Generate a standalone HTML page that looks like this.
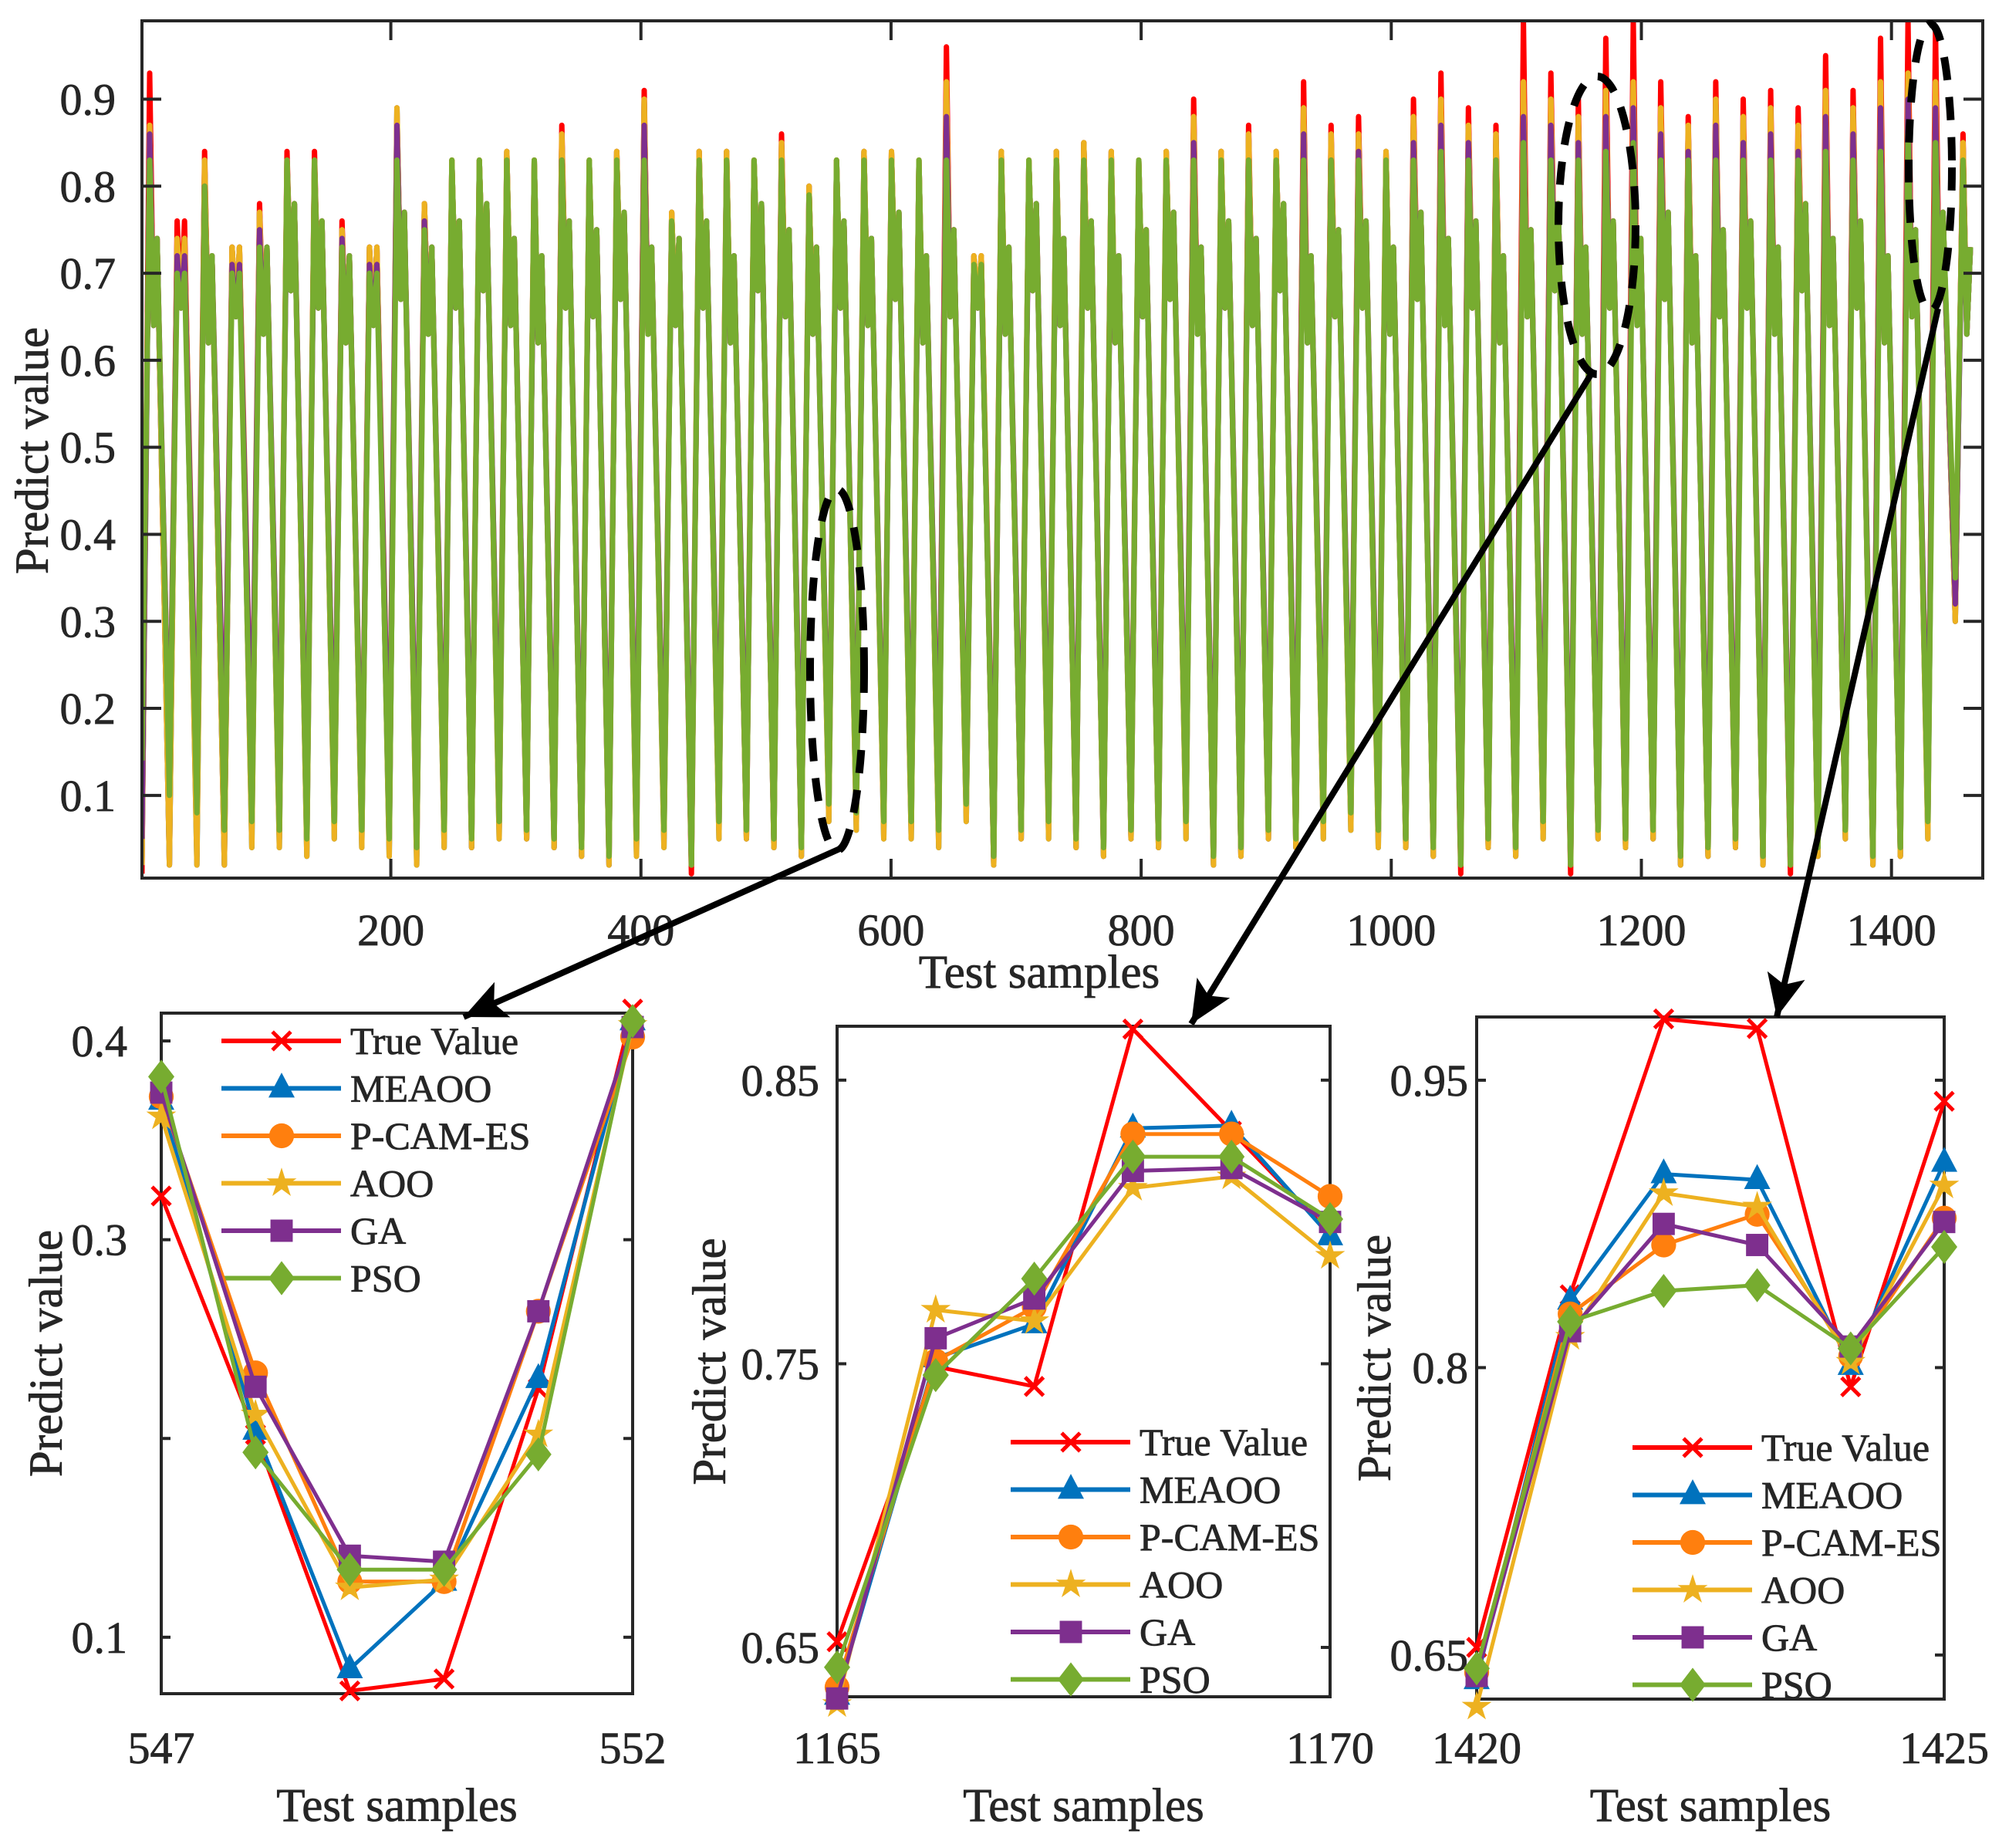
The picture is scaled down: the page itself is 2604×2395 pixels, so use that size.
<!DOCTYPE html>
<html><head><meta charset="utf-8">
<style>
html,body{margin:0;padding:0;background:#fff;}
svg text{font-family:"Liberation Serif",serif;fill:#262626;stroke:#262626;stroke-width:0.8px;}
</style></head>
<body>
<svg id="fig" width="2604" height="2390" viewBox="0 0 2604 2390" xmlns="http://www.w3.org/2000/svg">
<rect width="2604" height="2390" fill="#fff"/>
<g id="main"></g>
<g id="s1"></g>
<g id="s2"></g>
<g id="s3"></g>
<g id="ann"></g>
</svg>
<script>
// ---------- main chart data (per oscillation cycle) ----------
const mainXTicks=[200,400,600,800,1000,1200,1400];
const mainYTicks=[0.1,0.2,0.3,0.4,0.5,0.6,0.7,0.8,0.9];
const peaksTrue=[0.93,0.76,0.84,0.73,0.78,0.84,0.84,0.76,0.73,0.88,0.78,0.83,0.83,0.84,0.83,0.87,0.83,0.84,0.91,0.77,0.84,0.84,0.83,0.86,0.80,0.83,0.84,0.84,0.83,0.96,0.72,0.84,0.83,0.84,0.85,0.84,0.83,0.84,0.90,0.84,0.87,0.84,0.92,0.87,0.88,0.84,0.90,0.93,0.89,0.87,0.99,0.93,0.90,0.97,0.99,0.92,0.88,0.92,0.90,0.91,0.89,0.95,0.91,0.97,0.99,0.98,0.86];
const troughsTrue=[0.01,0.02,0.03,0.02,0.06,0.05,0.04,0.06,0.05,0.04,0.03,0.05,0.04,0.06,0.05,0.04,0.03,0.02,0.04,0.05,0.01,0.06,0.05,0.04,0.03,0.08,0.07,0.06,0.06,0.05,0.08,0.02,0.05,0.06,0.04,0.03,0.05,0.04,0.06,0.02,0.03,0.05,0.04,0.06,0.07,0.05,0.04,0.03,0.01,0.04,0.03,0.06,0.01,0.05,0.04,0.05,0.02,0.03,0.04,0.02,0.01,0.03,0.05,0.02,0.03,0.06,0.3];
const peaksMeaoo=[0.87,0.74,0.83,0.73,0.77,0.83,0.83,0.75,0.73,0.89,0.78,0.83,0.83,0.84,0.83,0.86,0.83,0.84,0.90,0.77,0.84,0.84,0.83,0.85,0.80,0.83,0.84,0.84,0.83,0.92,0.72,0.84,0.83,0.84,0.85,0.84,0.83,0.84,0.88,0.84,0.86,0.84,0.89,0.86,0.86,0.84,0.88,0.90,0.87,0.86,0.92,0.90,0.88,0.91,0.92,0.89,0.87,0.90,0.88,0.89,0.87,0.91,0.89,0.92,0.93,0.92,0.85];
const peaksGa=[0.86,0.72,0.80,0.71,0.75,0.80,0.80,0.74,0.71,0.87,0.76,0.80,0.80,0.81,0.80,0.83,0.80,0.81,0.87,0.75,0.81,0.81,0.80,0.82,0.78,0.80,0.81,0.81,0.80,0.88,0.70,0.81,0.80,0.81,0.82,0.81,0.80,0.81,0.85,0.81,0.83,0.81,0.86,0.83,0.84,0.81,0.85,0.87,0.85,0.83,0.88,0.87,0.85,0.88,0.89,0.86,0.84,0.87,0.85,0.86,0.84,0.88,0.86,0.89,0.90,0.89,0.82];
const peaksPso=[0.83,0.70,0.80,0.70,0.73,0.83,0.83,0.73,0.70,0.83,0.75,0.83,0.83,0.83,0.83,0.83,0.83,0.83,0.83,0.76,0.83,0.83,0.83,0.83,0.79,0.83,0.83,0.83,0.83,0.83,0.71,0.83,0.83,0.83,0.83,0.83,0.83,0.83,0.83,0.83,0.83,0.83,0.83,0.83,0.83,0.83,0.83,0.84,0.83,0.83,0.85,0.83,0.83,0.84,0.85,0.83,0.83,0.83,0.83,0.83,0.83,0.84,0.83,0.84,0.86,0.85,0.83];
const troughsAoo=[0.02,0.02,0.02,0.02,0.04,0.04,0.03,0.05,0.04,0.03,0.02,0.04,0.04,0.05,0.05,0.04,0.03,0.02,0.03,0.04,0.02,0.05,0.05,0.04,0.03,0.07,0.06,0.05,0.05,0.04,0.07,0.02,0.05,0.05,0.04,0.03,0.05,0.04,0.05,0.02,0.03,0.05,0.04,0.05,0.06,0.04,0.04,0.03,0.02,0.04,0.03,0.05,0.02,0.05,0.04,0.05,0.02,0.03,0.04,0.02,0.02,0.03,0.05,0.02,0.03,0.05,0.3];
const troughsGa=[0.05,0.12,0.12,0.12,0.13,0.10,0.09,0.10,0.08,0.09,0.08,0.09,0.08,0.10,0.09,0.08,0.07,0.06,0.08,0.09,0.05,0.10,0.09,0.08,0.07,0.11,0.10,0.09,0.10,0.09,0.11,0.06,0.09,0.10,0.08,0.07,0.09,0.08,0.10,0.06,0.07,0.09,0.08,0.10,0.11,0.09,0.08,0.07,0.05,0.08,0.07,0.10,0.05,0.09,0.08,0.09,0.06,0.07,0.08,0.06,0.05,0.07,0.09,0.06,0.07,0.10,0.32];
const troughsPso=[0.14,0.10,0.08,0.06,0.07,0.06,0.05,0.07,0.06,0.05,0.04,0.06,0.05,0.07,0.06,0.05,0.04,0.03,0.05,0.06,0.02,0.07,0.06,0.05,0.04,0.09,0.08,0.07,0.07,0.06,0.09,0.03,0.06,0.07,0.05,0.04,0.06,0.05,0.07,0.03,0.04,0.06,0.05,0.07,0.08,0.06,0.05,0.04,0.02,0.05,0.04,0.07,0.02,0.06,0.05,0.06,0.03,0.04,0.05,0.03,0.02,0.04,0.06,0.03,0.04,0.07,0.35];
const midDips=[0.64,0.66,0.62,0.65,0.63,0.68,0.66,0.62,0.64,0.67,0.63,0.66,0.68,0.64,0.62,0.66,0.65,0.67,0.63,0.64,0.66,0.62,0.68,0.65,0.63,0.66,0.64,0.67,0.62,0.65,0.66,0.63,0.68,0.64,0.66,0.62,0.65,0.67,0.63,0.66,0.64,0.68,0.62,0.65,0.66,0.63,0.67,0.64,0.66,0.62,0.65,0.68,0.63,0.66,0.64,0.67,0.62,0.65,0.66,0.63,0.68,0.64,0.66,0.62,0.65,0.67,0.63];

// ---------- zoom chart data ----------
const names=["True Value","MEAOO","P-CAM-ES","AOO","GA","PSO"];
const colors=["#ff0000","#0072bd","#ff7f0e","#edb120","#7e2f8e","#77ac30"];
const z1x=[547,548,549,550,551,552];
const z1True=[0.322,0.202,0.073,0.079,0.225,0.416];
const z1Meaoo=[0.370,0.204,0.084,0.128,0.230,0.410];
const z1Pcam=[0.372,0.233,0.128,0.128,0.264,0.402];
const z1Aoo=[0.362,0.212,0.125,0.129,0.202,0.408];
const z1Ga=[0.374,0.226,0.141,0.138,0.264,0.407];
const z1Pso=[0.382,0.193,0.134,0.134,0.192,0.410];
const z2x=[1165,1166,1167,1168,1169,1170];
const z2True=[0.652,0.749,0.742,0.868,0.832,0.796];
const z2Meaoo=[0.633,0.752,0.764,0.833,0.834,0.795];
const z2Pcam=[0.636,0.751,0.770,0.831,0.831,0.809];
const z2Aoo=[0.630,0.769,0.765,0.812,0.816,0.788];
const z2Ga=[0.632,0.759,0.773,0.818,0.819,0.800];
const z2Pso=[0.643,0.746,0.780,0.823,0.823,0.801];
const z3x=[1420,1421,1422,1423,1424,1425];
const z3True=[0.654,0.838,0.982,0.977,0.790,0.939];
const z3Meaoo=[0.637,0.835,0.901,0.898,0.801,0.907];
const z3Pcam=[0.641,0.828,0.864,0.880,0.806,0.878];
const z3Aoo=[0.623,0.816,0.891,0.884,0.803,0.895];
const z3Ga=[0.639,0.819,0.875,0.864,0.811,0.876];
const z3Pso=[0.643,0.824,0.840,0.843,0.810,0.863];

const NS="http://www.w3.org/2000/svg";
function mk(tag,parent,attrs){const e=document.createElementNS(NS,tag);for(const k in attrs)e.setAttribute(k,attrs[k]);parent.appendChild(e);return e;}

// ---------- main chart ----------
(function(){
 const g=document.getElementById('main');
 const L=184,R=2570,T=27,B=1138,XMIN=1,XMAX=1473,YMIN=0.005,YMAX=0.99;
 const sx=v=>L+(v-XMIN)/(XMAX-XMIN)*(R-L);
 const sy=v=>B-(v-YMIN)/(YMAX-YMIN)*(B-T);
 const clip=mk('clipPath',g,{id:'mclip'});mk('rect',clip,{x:L,y:T,width:R-L,height:B-T});
 const n=peaksTrue.length, P=(XMAX-XMIN)/n;
 function series(pk,tr){
   const pts=[];
   for(let i=0;i<n;i++){
     const x0=XMIN+i*P;
     pts.push([x0,tr[i]]);
     pts.push([x0+P*0.28,pk[i]]);
     pts.push([x0+P*0.42,midDips[i]]);
     pts.push([x0+P*0.55,Math.min(pk[i],midDips[i]+0.1)]);
   }
   return pts.map(p=>sx(p[0]).toFixed(1)+','+sy(p[1]).toFixed(1)).join(' ');
 }
 const defs=[[peaksTrue,troughsTrue,0,'series-true-value'],[peaksMeaoo,troughsAoo,1,'series-meaoo'],[peaksMeaoo,troughsGa,2,'series-p-cam-es'],[peaksMeaoo,troughsAoo,3,'series-aoo'],[peaksGa,troughsGa,4,'series-ga'],[peaksPso,troughsPso,5,'series-pso']];
 const lg=mk('g',g,{'clip-path':'url(#mclip)'});
 defs.forEach(d=>{
   const pl=mk('polyline',lg,{points:series(d[0],d[1]),fill:'none',stroke:colors[d[2]],'stroke-width':7,'stroke-linejoin':'round'});
   
   
 });
 const box=mk('rect',g,{x:L,y:T,width:R-L,height:B-T,fill:'none',stroke:'#262626','stroke-width':4});
 
 
 mainXTicks.forEach(v=>{
   const x=sx(v);
   mk('line',g,{x1:x,x2:x,y1:B,y2:B-25,stroke:'#262626','stroke-width':4});
   mk('line',g,{x1:x,x2:x,y1:T,y2:T+25,stroke:'#262626','stroke-width':4});
   const t=mk('text',g,{x:x,y:1225,'font-size':58,'text-anchor':'middle'});t.textContent=v;
   
   
 });
 mainYTicks.forEach(v=>{
   const y=sy(v);
   mk('line',g,{x1:L,x2:L+25,y1:y,y2:y,stroke:'#262626','stroke-width':4});
   mk('line',g,{x1:R,x2:R-25,y1:y,y2:y,stroke:'#262626','stroke-width':4});
   const t=mk('text',g,{x:150,y:y+20,'font-size':58,'text-anchor':'end'});t.textContent=v.toFixed(1);
   
   
 });
 const xt=mk('text',g,{x:1347,y:1280,'font-size':61,'text-anchor':'middle'});xt.textContent='Test samples';
 
 
 const yt=mk('text',g,{x:0,y:0,'font-size':61,'text-anchor':'middle',transform:'translate(62,584) rotate(-90)'});yt.textContent='Predict value';
 
 
})();

// ---------- zoom charts ----------
function marker(g,type,x,y,c){
 const s=17;
 if(type===0){mk('path',g,{d:`M${x-s*0.7},${y-s*0.7}L${x+s*0.7},${y+s*0.7}M${x-s*0.7},${y+s*0.7}L${x+s*0.7},${y-s*0.7}`,stroke:c,'stroke-width':5,fill:'none'});}
 else if(type===1){mk('polygon',g,{points:`${x},${y-s*1.2} ${x-s},${y+s*0.7} ${x+s},${y+s*0.7}`,fill:c});}
 else if(type===2){mk('circle',g,{cx:x,cy:y,r:s*0.95,fill:c});}
 else if(type===3){const p=[];for(let k=0;k<10;k++){const r=k%2?s*0.45:s*1.2;const a=-Math.PI/2+k*Math.PI/5;p.push((x+r*Math.cos(a)).toFixed(1)+','+(y+r*Math.sin(a)).toFixed(1));}mk('polygon',g,{points:p.join(' '),fill:c});}
 else if(type===4){mk('rect',g,{x:x-s*0.85,y:y-s*0.85,width:s*1.7,height:s*1.7,fill:c});}
 else {mk('polygon',g,{points:`${x},${y-s*1.3} ${x+s},${y} ${x},${y+s*1.3} ${x-s},${y}`,fill:c});}
}
function zoomChart(id,cfg,xs,seriesArr){
 const g=document.getElementById(id);
 const {L,R,T,B,YMIN,YMAX,yTicks,yLabels,labX,legX,legY,ytX}=cfg;
 const XMIN=xs[0],XMAX=xs[xs.length-1];
 const sx=v=>L+(v-XMIN)/(XMAX-XMIN)*(R-L);
 const sy=v=>B-(v-YMIN)/(YMAX-YMIN)*(B-T);
 const fr=mk('rect',g,{x:L,y:T,width:R-L,height:B-T,fill:'none',stroke:'#262626','stroke-width':4});
 
 
 yTicks.forEach((v,i)=>{
   const y=sy(v);
   mk('line',g,{x1:L,x2:L+12,y1:y,y2:y,stroke:'#262626','stroke-width':4});
   mk('line',g,{x1:R,x2:R-12,y1:y,y2:y,stroke:'#262626','stroke-width':4});
   if(yLabels[i]){const t=mk('text',g,{x:labX,y:y+20,'font-size':58,'text-anchor':'end'});t.textContent=yLabels[i];
   
   }
 });
 [XMIN,XMAX].forEach(v=>{
   const t=mk('text',g,{x:sx(v),y:2285,'font-size':58,'text-anchor':'middle'});t.textContent=v;
   
   
 });
 const xt=mk('text',g,{x:(L+R)/2,y:2360,'font-size':61,'text-anchor':'middle'});xt.textContent='Test samples';
 
 
 const yt=mk('text',g,{x:0,y:0,'font-size':61,'text-anchor':'middle',transform:`translate(${ytX},${(T+B)/2}) rotate(-90)`});yt.textContent='Predict value';
 
 
 names.forEach((nm,i)=>{
   const y=legY+i*61.5;
   const lgE=mk('g',g,{});
   
   
   mk('line',lgE,{x1:legX,x2:legX+155,y1:y,y2:y,stroke:colors[i],'stroke-width':6});
   marker(lgE,i,legX+78,y,colors[i]);
   const t=mk('text',lgE,{x:legX+167,y:y+17,'font-size':50});t.textContent=nm;
 });
 seriesArr.forEach((vals,i)=>{
   const sg=mk('g',g,{});
   
   
   mk('polyline',sg,{points:vals.map((v,k)=>sx(xs[k]).toFixed(1)+','+sy(v).toFixed(1)).join(' '),fill:'none',stroke:colors[i],'stroke-width':5,'stroke-linejoin':'round'});
   vals.forEach((v,k)=>marker(sg,i,sx(xs[k]),sy(v),colors[i]));
 });
}
zoomChart('s1',{L:209,R:820,T:1313,B:2195,YMIN:0.0716,YMAX:0.414,yTicks:[0.1,0.2,0.3,0.4],yLabels:['0.1','','0.3','0.4'],labX:165,legX:287,legY:1349,ytX:80},z1x,[z1True,z1Meaoo,z1Pcam,z1Aoo,z1Ga,z1Pso]);
zoomChart('s2',{L:1085,R:1724,T:1330,B:2199,YMIN:0.6326,YMAX:0.869,yTicks:[0.65,0.75,0.85],yLabels:['0.65','0.75','0.85'],labX:1062,legX:1310,legY:1869,ytX:940},z2x,[z2True,z2Meaoo,z2Pcam,z2Aoo,z2Ga,z2Pso]);
zoomChart('s3',{L:1914,R:2520,T:1318,B:2202,YMIN:0.627,YMAX:0.983,yTicks:[0.65,0.8,0.95],yLabels:['0.65','0.8','0.95'],labX:1903,legX:2116,legY:1876,ytX:1802},z3x,[z3True,z3Meaoo,z3Pcam,z3Aoo,z3Ga,z3Pso]);

// ---------- annotations ----------
(function(){
 const g=document.getElementById('ann');
 const defs=mk('defs',g,{});
 const m=mk('marker',defs,{id:'ah',orient:'auto',markerUnits:'userSpaceOnUse'});
 m.setAttribute('markerWidth',60);m.setAttribute('markerHeight',50);m.setAttribute('refX',55);m.setAttribute('refY',25);
 mk('path',m,{d:'M0,0 L55,25 L0,50 L12,25 Z',fill:'#000'});
 const ells=[[1085,868,35,234,'zoom-ellipse-1'],[2070,292,50,193,'zoom-ellipse-2'],[2502,217,28,186,'zoom-ellipse-3']];
 ells.forEach(e=>{const el=mk('ellipse',g,{cx:e[0],cy:e[1],rx:e[2],ry:e[3],fill:'none',stroke:'#000','stroke-width':10,'stroke-dasharray':'30,22'});
   
   });
 const arrows=[[1093,1098,601,1318,'zoom-arrow-1'],[2061,487,1544,1327,'zoom-arrow-2'],[2512,400,2303,1318,'zoom-arrow-3']];
 arrows.forEach(a=>{const l=mk('line',g,{x1:a[0],y1:a[1],x2:a[2],y2:a[3],stroke:'#000','stroke-width':8,'marker-end':'url(#ah)'});
   
   });
})();
</script>
</body></html>
